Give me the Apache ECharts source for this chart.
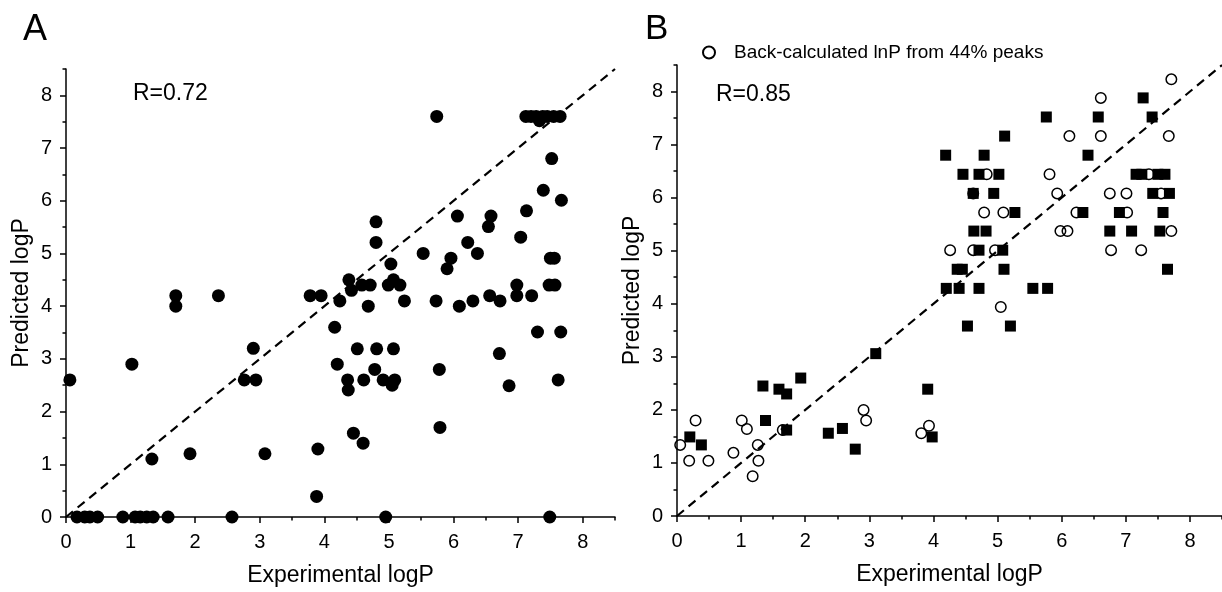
<!DOCTYPE html>
<html>
<head>
<meta charset="utf-8">
<script src="https://cdn.jsdelivr.net/npm/echarts@6/dist/echarts.min.js"></script>
<style>
html,body{margin:0;padding:0;background:#fff;}
#chart{width:1222px;height:592px;}
</style>
</head>
<body>
<div id="chart"></div>
<script>
// ---- data ----
const tickValues = [0, 1, 2, 3, 4, 5, 6, 7, 8];
const axisMax = 8.5;
const diagonal = [[0, 0], [8.5, 8.5]];

// Panel A: experimental vs predicted logP
const panelA = [
  [0.17,0],[0.29,0],[0.37,0],[0.49,0],[0.88,0],[1.07,0],[1.15,0],[1.25,0],[1.35,0],[1.58,0],[2.57,0],[4.95,0],[7.49,0],
  [0.06,2.6],[1.02,2.9],[1.33,1.1],[1.92,1.2],[2.76,2.6],[2.9,3.2],[2.94,2.6],[3.08,1.2],[3.9,1.29],[3.88,0.39],
  [1.7,4.0],[1.7,4.2],[2.36,4.2],[3.78,4.2],[3.95,4.2],
  [4.24,4.1],[4.68,4.0],[5.24,4.1],[5.73,4.1],[6.09,4.0],[6.3,4.1],
  [4.16,3.6],[4.51,3.19],[4.81,3.19],[5.07,3.19],[4.2,2.9],[4.78,2.8],[4.36,2.6],[4.37,2.41],[4.61,2.6],[4.91,2.6],
  [5.09,2.6],[5.05,2.5],[5.78,2.8],[5.79,1.7],[4.45,1.59],[4.6,1.4],[6.71,3.1],[6.86,2.49],[7.3,3.51],[7.66,3.51],[7.62,2.6],
  [5.74,7.6],[7.12,7.6],[7.2,7.6],[7.28,7.6],[7.38,7.6],[7.45,7.6],[7.55,7.6],[7.65,7.6],[7.33,7.52],
  [7.52,6.8],[7.39,6.2],[7.67,6.01],[7.13,5.81],[7.04,5.31],[7.5,4.91],[7.56,4.91],[7.48,4.4],[7.57,4.4],
  [7.21,4.2],[6.98,4.4],[6.98,4.2],[6.72,4.1],[6.56,4.2],
  [4.42,4.3],[4.38,4.5],[4.58,4.4],[4.71,4.4],[4.99,4.4],[5.17,4.4],[5.07,4.5],[5.03,4.8],[4.8,5.21],[4.8,5.6],
  [5.53,5.0],[5.9,4.71],[5.96,4.91],[6.06,5.71],[6.22,5.21],[6.37,5.0],[6.54,5.51],[6.58,5.71]
];

// Panel B: filled squares
const panelBSquares = [
  [0.2,1.49],[0.38,1.34],[1.34,2.45],[1.38,1.8],[1.59,2.39],[1.71,2.3],[1.71,1.62],[1.93,2.6],[2.36,1.56],[2.58,1.65],
  [2.78,1.26],[3.1,3.06],[3.91,2.39],[3.98,1.49],[4.53,3.58],[5.2,3.58],
  [5.11,7.16],[4.19,6.8],[4.79,6.8],[4.46,6.44],[4.71,6.44],[5.02,6.44],[4.62,6.08],[4.94,6.08],[4.63,5.37],[4.82,5.37],
  [4.71,5.01],[5.08,5.01],[4.37,4.65],[4.45,4.65],[5.1,4.65],[4.2,4.29],[4.4,4.29],[4.71,4.29],
  [7.27,7.88],[5.76,7.52],[6.57,7.52],[7.41,7.52],[6.41,6.8],[7.16,6.44],[7.25,6.44],[7.5,6.44],[7.61,6.44],[7.42,6.08],
  [7.68,6.08],[5.27,5.72],[6.33,5.72],[6.9,5.72],[7.58,5.72],[6.75,5.37],[7.09,5.37],[7.53,5.37],[7.65,4.65],[5.55,4.29],[5.78,4.29]
];

// Panel B: open circles (back-calculated lnP from 44% peaks)
const panelBCircles = [
  [0.05,1.34],[0.19,1.04],[0.29,1.8],[0.49,1.04],[0.88,1.19],[1.01,1.8],[1.09,1.64],[1.18,0.75],[1.26,1.34],[1.27,1.04],
  [1.65,1.62],[2.91,2.0],[2.95,1.8],[3.81,1.56],[3.93,1.7],
  [5.05,3.94],[4.83,6.44],[4.62,6.08],[4.79,5.72],[5.09,5.72],[4.26,5.01],[4.62,5.01],[4.96,5.01],
  [7.71,8.23],[6.61,7.88],[6.12,7.16],[6.61,7.16],[7.67,7.16],[5.81,6.44],[7.36,6.44],[5.93,6.08],[6.75,6.08],[7.01,6.08],
  [7.55,6.08],[6.23,5.72],[7.02,5.72],[5.98,5.37],[6.09,5.37],[7.71,5.37],[6.77,5.01],[7.24,5.01]
];

const legendName = 'Back-calculated lnP from 44% peaks';
const xName = 'Experimental logP';
const yName = 'Predicted logP';

// ---- styling ----
const FONT = "'Liberation Sans', Arial, sans-serif";
const gridA = {left: 66, top: 69, width: 549, height: 450};
const gridB = {left: 677, top: 65, width: 548, height: 451};

function mainX(gridIndex) {
  return {
    type: 'value', gridIndex, position: 'bottom', min: 0, max: axisMax, zlevel: 1, z: 10,
    name: xName, nameLocation: 'middle', nameGap: 47,
    nameTextStyle: {fontFamily: FONT, fontSize: 23, color: '#000'},
    axisLine: {show: true, onZero: false, lineStyle: {color: '#000', width: 1.5}},
    axisTick: {show: true, inside: false, length: 6, customValues: tickValues, lineStyle: {color: '#000', width: 1.5}},
    axisLabel: {show: true, customValues: tickValues, margin: 15, fontFamily: FONT, fontSize: 20, color: '#000'},
    splitLine: {show: false}
  };
}
function minorX(gridIndex) {
  return {
    type: 'value', gridIndex, position: 'bottom', min: 0, max: axisMax, interval: 0.5, zlevel: 1, z: 10,
    axisLine: {show: false, onZero: false},
    axisTick: {show: true, inside: false, length: 3.5, lineStyle: {color: '#000', width: 1.5}},
    axisLabel: {show: false}, splitLine: {show: false}
  };
}
function mainY(gridIndex) {
  return {
    type: 'value', gridIndex, position: 'left', min: 0, max: axisMax, zlevel: 1, z: 10,
    name: yName, nameLocation: 'middle', nameGap: 33, nameRotate: 90,
    nameTextStyle: {fontFamily: FONT, fontSize: 23, color: '#000'},
    axisLine: {show: true, onZero: false, lineStyle: {color: '#000', width: 1.5}},
    axisTick: {show: true, inside: false, length: 6, customValues: tickValues, lineStyle: {color: '#000', width: 1.5}},
    axisLabel: {show: true, customValues: tickValues, margin: 14, fontFamily: FONT, fontSize: 20, color: '#000'},
    splitLine: {show: false}
  };
}
function minorY(gridIndex) {
  return {
    type: 'value', gridIndex, position: 'left', min: 0, max: axisMax, interval: 0.5, zlevel: 1, z: 10,
    axisLine: {show: false, onZero: false},
    axisTick: {show: true, inside: false, length: 3.5, lineStyle: {color: '#000', width: 1.5}},
    axisLabel: {show: false}, splitLine: {show: false}
  };
}

const dashLine = (xi, yi) => ({
  type: 'line', xAxisIndex: xi, yAxisIndex: yi, data: diagonal,
  showSymbol: false, symbol: 'none', silent: true, z: 1,
  lineStyle: {color: '#000', width: 2.2, type: [9, 6]}
});

const option = {
  animation: false,
  backgroundColor: '#fff',
  textStyle: {fontFamily: FONT},
  grid: [
    Object.assign({containLabel: false}, gridA),
    Object.assign({containLabel: false}, gridB)
  ],
  xAxis: [mainX(0), minorX(0), mainX(1), minorX(1)],
  yAxis: [mainY(0), minorY(0), mainY(1), minorY(1)],
  legend: {
    show: true, left: 697, top: 38, orient: 'horizontal',
    itemWidth: 12, itemHeight: 12,
    data: [{name: legendName, icon: 'circle'}],
    textStyle: {fontFamily: FONT, fontSize: 19, color: '#000', padding: [0, 0, 0, 14]},
    selectedMode: false
  },
  graphic: {
    zlevel: 1,
    elements: [
      {type: 'text', left: 23, top: 12, z: 20, style: {text: 'A', font: '36px ' + FONT, fill: '#000'}},
      {type: 'text', left: 645, top: 12, z: 20, style: {text: 'B', font: '35px ' + FONT, fill: '#000'}},
      {type: 'text', left: 133, top: 82, z: 20, style: {text: 'R=0.72', font: '23px ' + FONT, fill: '#000'}},
      {type: 'text', left: 716, top: 83, z: 20, style: {text: 'R=0.85', font: '23px ' + FONT, fill: '#000'}},
      // white strip below panel A's x-axis so the points sitting on y=0 look clipped, as in the original
      {type: 'rect', z: 1, silent: true,
       shape: {x: gridA.left - 2, y: gridA.top + gridA.height + 1, width: gridA.width + 4, height: 8},
       style: {fill: '#fff'}}
    ]
  },
  series: [
    dashLine(0, 0),
    {
      type: 'scatter', name: 'A', xAxisIndex: 0, yAxisIndex: 0, data: panelA,
      symbol: 'circle', symbolSize: 13, z: 2,
      itemStyle: {color: '#000', opacity: 1}
    },
    dashLine(2, 2),
    {
      type: 'scatter', name: 'squares', xAxisIndex: 2, yAxisIndex: 2, data: panelBSquares,
      symbol: 'rect', symbolSize: 11, z: 2,
      itemStyle: {color: '#000', opacity: 1}
    },
    {
      type: 'scatter', name: legendName, xAxisIndex: 2, yAxisIndex: 2, data: panelBCircles,
      symbol: 'circle', symbolSize: 10.5, z: 3,
      itemStyle: {color: 'rgba(255,255,255,0)', borderColor: '#000', borderWidth: 1.5, opacity: 1}
    }
  ]
};

const chart = echarts.init(document.getElementById('chart'), null, {renderer: 'canvas'});
chart.setOption(option);
</script>
</body>
</html>
